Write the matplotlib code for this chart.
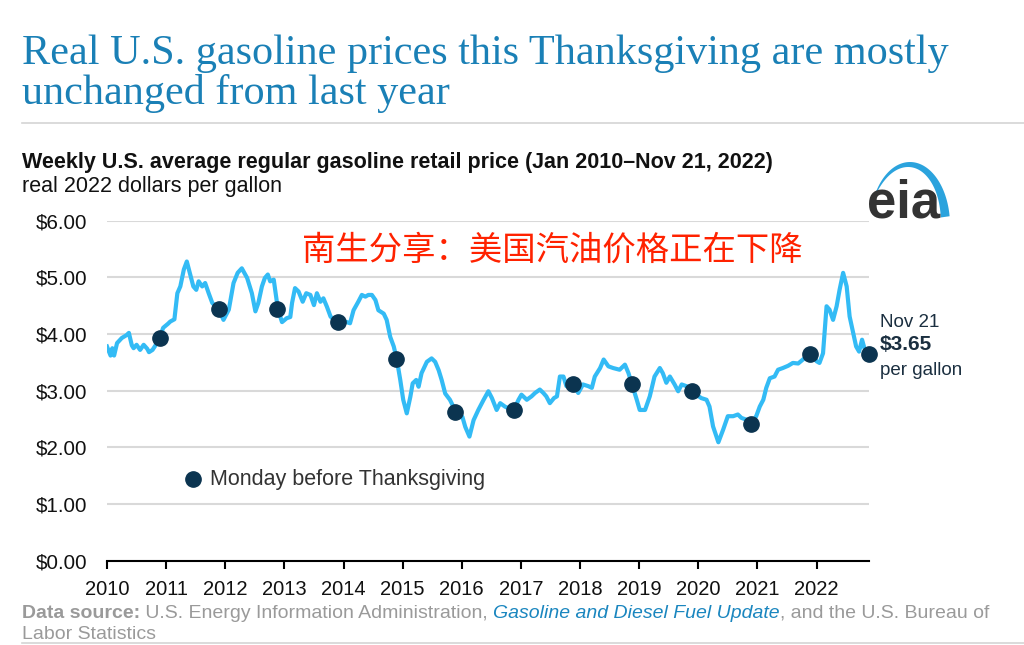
import numpy as np
import pandas as pd
import matplotlib
matplotlib.use('Agg')
import matplotlib.pyplot as plt
from matplotlib.lines import Line2D
from matplotlib.patches import Polygon

plt.rcParams['font.family'] = ['Liberation Sans', 'DejaVu Sans']

# weekly regular gasoline price (decimal year, real 2022 $/gal)
price_t = [
    2010.00, 2010.03, 2010.06, 2010.09, 2010.12, 2010.17, 2010.25, 2010.33, 2010.37, 2010.42,
    2010.45, 2010.50, 2010.56, 2010.62, 2010.68, 2010.71, 2010.77, 2010.82, 2010.89, 2010.95,
    2011.03, 2011.07, 2011.14, 2011.19, 2011.24, 2011.30, 2011.35, 2011.40, 2011.46, 2011.51,
    2011.55, 2011.61, 2011.66, 2011.72, 2011.78, 2011.86, 2011.89, 2011.97, 2012.06, 2012.14,
    2012.21, 2012.28, 2012.37, 2012.45, 2012.51, 2012.56, 2012.62, 2012.67, 2012.72, 2012.76,
    2012.82, 2012.89, 2012.96, 2013.04, 2013.10, 2013.13, 2013.18, 2013.24, 2013.31, 2013.37,
    2013.44, 2013.50, 2013.55, 2013.61, 2013.66, 2013.72, 2013.78, 2013.86, 2013.90, 2013.94,
    2014.03, 2014.11, 2014.17, 2014.25, 2014.31, 2014.37, 2014.42, 2014.48, 2014.54, 2014.59,
    2014.68, 2014.73, 2014.79, 2014.85, 2014.90, 2014.96, 2015.01, 2015.07, 2015.13, 2015.17,
    2015.23, 2015.27, 2015.32, 2015.41, 2015.49, 2015.55, 2015.61, 2015.66, 2015.72, 2015.80,
    2015.90, 2016.01, 2016.06, 2016.13, 2016.20, 2016.28, 2016.37, 2016.45, 2016.51, 2016.59,
    2016.65, 2016.73, 2016.79, 2016.88, 2016.96, 2017.01, 2017.10, 2017.18, 2017.24, 2017.32,
    2017.38, 2017.43, 2017.49, 2017.56, 2017.61, 2017.66, 2017.72, 2017.77, 2017.86, 2017.89,
    2017.97, 2018.05, 2018.14, 2018.20, 2018.25, 2018.34, 2018.40, 2018.48, 2018.56, 2018.67,
    2018.76, 2018.82, 2018.88, 2018.96, 2019.01, 2019.10, 2019.18, 2019.26, 2019.35, 2019.40,
    2019.46, 2019.52, 2019.60, 2019.66, 2019.72, 2019.80, 2019.90, 2019.97, 2020.05, 2020.14,
    2020.19, 2020.25, 2020.34, 2020.42, 2020.50, 2020.59, 2020.67, 2020.73, 2020.81, 2020.90,
    2020.98, 2021.04, 2021.10, 2021.15, 2021.21, 2021.29, 2021.35, 2021.43, 2021.52, 2021.60,
    2021.69, 2021.77, 2021.88, 2021.96, 2022.00, 2022.05, 2022.11, 2022.17, 2022.22, 2022.28,
    2022.34, 2022.39, 2022.45, 2022.51, 2022.56, 2022.62, 2022.67, 2022.72, 2022.77, 2022.81,
    2022.87, 2022.89,
]
price = [
    3.78, 3.70, 3.62, 3.75, 3.62, 3.84, 3.93, 3.98, 4.02, 3.80,
    3.75, 3.81, 3.72, 3.81, 3.74, 3.68, 3.72, 3.80, 3.93, 4.11,
    4.18, 4.22, 4.26, 4.72, 4.84, 5.14, 5.28, 5.08, 4.84, 4.78,
    4.93, 4.84, 4.90, 4.72, 4.55, 4.46, 4.44, 4.25, 4.43, 4.90,
    5.08, 5.16, 4.99, 4.72, 4.40, 4.55, 4.84, 4.99, 5.05, 4.93,
    4.96, 4.44, 4.21, 4.28, 4.30, 4.55, 4.81, 4.75, 4.57, 4.72,
    4.69, 4.51, 4.72, 4.57, 4.63, 4.48, 4.31, 4.22, 4.21, 4.13,
    4.22, 4.19, 4.42, 4.57, 4.69, 4.66, 4.69, 4.69, 4.60, 4.42,
    4.36, 4.25, 3.95, 3.78, 3.56, 3.19, 2.84, 2.60, 2.89, 3.13,
    3.19, 3.07, 3.31, 3.51, 3.57, 3.51, 3.36, 3.19, 2.95, 2.84,
    2.63, 2.54, 2.36, 2.19, 2.48, 2.66, 2.84, 2.99, 2.87, 2.66,
    2.78, 2.72, 2.69, 2.66, 2.84, 2.93, 2.84, 2.90, 2.96, 3.02,
    2.96, 2.90, 2.78, 2.87, 2.90, 3.25, 3.25, 3.08, 3.14, 3.11,
    2.96, 3.11, 3.08, 3.05, 3.25, 3.40, 3.55, 3.43, 3.40, 3.37,
    3.46, 3.31, 3.11, 2.84, 2.66, 2.66, 2.90, 3.25, 3.40, 3.31,
    3.14, 3.25, 3.11, 2.99, 3.11, 3.08, 2.99, 2.93, 2.87, 2.84,
    2.72, 2.37, 2.09, 2.31, 2.55, 2.55, 2.58, 2.52, 2.49, 2.42,
    2.55, 2.72, 2.84, 3.05, 3.22, 3.25, 3.37, 3.40, 3.44, 3.49,
    3.48, 3.55, 3.65, 3.60, 3.52, 3.49, 3.66, 4.49, 4.43, 4.25,
    4.49, 4.78, 5.08, 4.84, 4.31, 4.02, 3.78, 3.69, 3.90, 3.75,
    3.69, 3.65,
]

# Monday before Thanksgiving
tg_dates = ['2010-11-22', '2011-11-21', '2012-11-19', '2013-11-25', '2014-11-24',
            '2015-11-23', '2016-11-21', '2017-11-20', '2018-11-19', '2019-11-25',
            '2020-11-23', '2021-11-22', '2022-11-21']
tg_price = [3.93, 4.44, 4.44, 4.21, 3.56, 2.63, 2.66, 3.11, 3.11, 2.99, 2.42, 3.65, 3.65]

years = list(range(2010, 2023))
yticks = [0, 1, 2, 3, 4, 5, 6]

BLUE = '#33bbf5'
NAVY = '#0b3450'
W, H = 1024, 645


def dec_year(s):
    d = pd.Timestamp(s)
    return d.year + (d.dayofyear - 1) / (366 if d.is_leap_year else 365)


def px(x, y):
    # pixel position (from top left) -> figure fraction
    return x / W, 1 - y / H


tg_t = [dec_year(d) for d in tg_dates]

fig = plt.figure(figsize=(W / 100, H / 100), dpi=100)

# headline and rules
fig.text(*px(22, 64), 'Real U.S. gasoline prices this Thanksgiving are mostly',
         family='Liberation Serif', fontsize=30.4, color='#1a80b6', va='baseline')
fig.text(*px(22, 104), 'unchanged from last year',
         family='Liberation Serif', fontsize=30.4, color='#1a80b6', va='baseline')
fig.add_artist(Line2D([22 / W, 1], [1 - 123 / H] * 2, color='#d4d4d4', lw=1.2))
fig.add_artist(Line2D([22 / W, 1], [1 - 643 / H] * 2, color='#d4d4d4', lw=1.2))

fig.text(*px(22, 168), 'Weekly U.S. average regular gasoline retail price (Jan 2010\u2013Nov 21, 2022)',
         fontsize=15.5, weight='bold', color='#111111', va='baseline')
fig.text(*px(22, 192), 'real 2022 dollars per gallon', fontsize=15.5, color='#111111', va='baseline')

# eia logo: crescent plus letters
th = np.radians(np.linspace(8, 155, 60))
cx, cy, rx, ry = 910, 225, 40, 63
wt = 9 * ((np.radians(155) - th) / np.radians(147)) ** 0.7
outer = [px(cx + rx * np.cos(a), cy - ry * np.sin(a)) for a in th]
inner = [px(cx + (rx - w) * np.cos(a), cy - (ry - w) * np.sin(a)) for a, w in zip(th[::-1], wt[::-1])]
fig.add_artist(Polygon(outer + inner, closed=True, color='#2ba3dd', lw=0))
fig.text(*px(867, 217), 'eia', fontsize=38, weight='bold', color='#333333', va='baseline')

# chart
ax = fig.add_axes([107 / W, 1 - 560.7 / H, (869 - 107) / W, (560.7 - 220.7) / H])
ax.plot(price_t, price, color=BLUE, lw=3, solid_joinstyle='round', zorder=3)
ax.plot(tg_t, tg_price, 'o', ms=11, color=NAVY, zorder=4, clip_on=False)

ax.set_xlim(2010, dec_year('2022-11-21'))
ax.set_ylim(0, 6)
ax.set_xticks(years)
ax.set_xticklabels([str(y) for y in years])
ax.set_yticks(yticks)
ax.set_yticklabels([f'${v:.2f}' for v in yticks])
ax.grid(axis='y', color='#d9d9d9', lw=1.5)
ax.set_axisbelow(True)
for s in ['top', 'right', 'left']:
    ax.spines[s].set_visible(False)
ax.spines['bottom'].set_linewidth(1.5)
ax.spines['bottom'].set_zorder(5)
ax.tick_params(axis='y', length=0, pad=14, labelsize=14.8, labelcolor='#111111')
ax.tick_params(axis='x', length=6, width=1.5, pad=8, labelsize=14.5, labelcolor='#111111')

# legend
ax.plot([0.113], [0.24], 'o', ms=11, color=NAVY, transform=ax.transAxes, clip_on=False)
ax.text(0.135, 0.24, 'Monday before Thanksgiving', transform=ax.transAxes,
        va='center', fontsize=15.5, color='#333333')

# latest value callout
fig.text(*px(880, 327), 'Nov 21', fontsize=13.5, color='#1b2f40', va='baseline')
fig.text(*px(880, 350), '$3.65', fontsize=15, weight='bold', color='#1b2f40', va='baseline')
fig.text(*px(880, 375), 'per gallon', fontsize=13.5, color='#1b2f40', va='baseline')

# overlay caption
fig.text(*px(552, 250), '南生分享：美国汽油价格正在下降', ha='center', va='center',
         fontsize=24, color='#ff2200', family=['Noto Sans CJK SC', 'DejaVu Sans'])

# source line, pieced together
r = fig.canvas.get_renderer()
x0 = 22
pieces = [('Data source:', dict(weight='bold', color='#9a9a9a')),
          (' U.S. Energy Information Administration, ', dict(color='#9a9a9a')),
          ('Gasoline and Diesel Fuel Update', dict(style='italic', color='#1a86bf')),
          (', and the U.S. Bureau of', dict(color='#9a9a9a'))]
for txt, kw in pieces:
    t = fig.text(*px(x0, 618), txt, fontsize=14, va='baseline', **kw)
    x0 += t.get_window_extent(renderer=r).width
fig.text(*px(22, 639), 'Labor Statistics', fontsize=14, color='#9a9a9a', va='baseline')

fig.savefig('out.png', dpi=100)
